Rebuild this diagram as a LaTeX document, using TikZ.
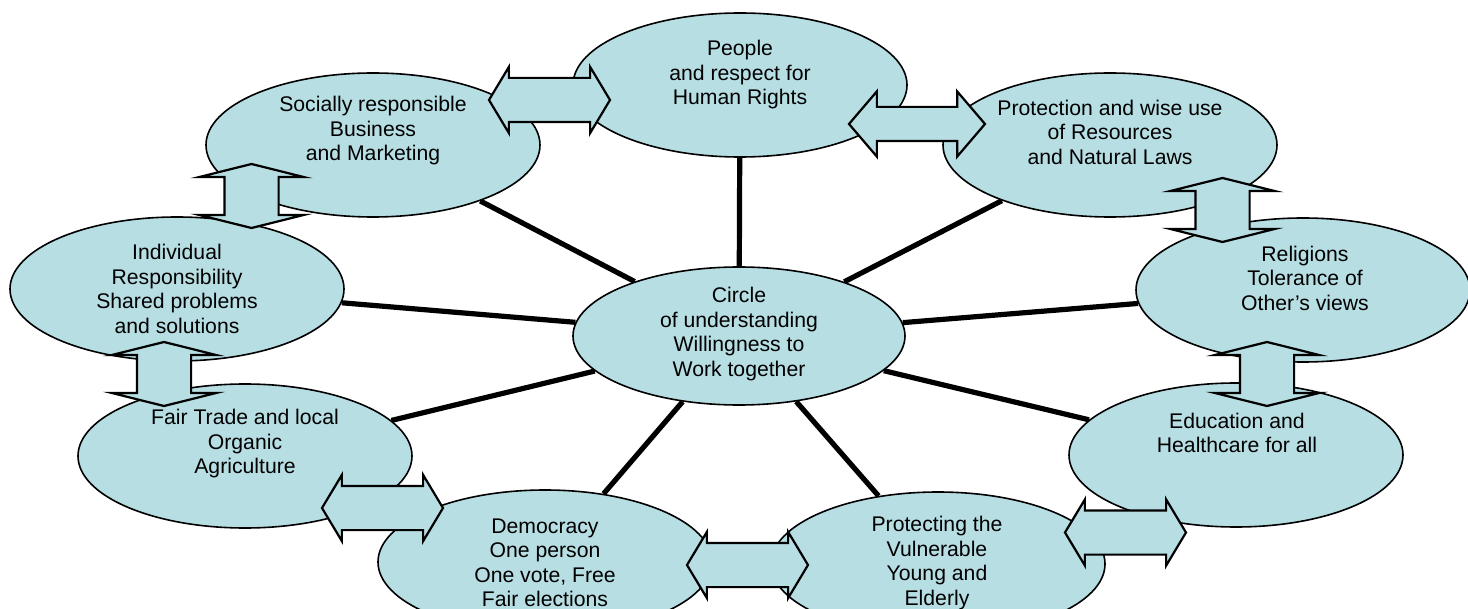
\documentclass[tikz,border=0pt]{standalone}
\usepackage{fontspec}
\setmainfont{Liberation Sans}
\usetikzlibrary{shapes.geometric, shapes.arrows, backgrounds, positioning}
\definecolor{aqua}{RGB}{183,222,227}

\begin{document}
\begin{tikzpicture}[
		x=0.5pt, y=-0.5pt,
		bubble/.style={ellipse, draw=black, fill=aqua, line width=0.8pt, inner sep=0pt, minimum width=167pt, minimum height=72pt},
		words/.style={align=center, font=\fontsize{10.6}{12.25}\selectfont, inner sep=0pt},
		spoke/.style={line width=2.6pt},
		link/.style={double arrow, draw=black, fill=aqua, line width=1.1pt, inner xsep=0pt, inner ysep=10.5pt, minimum height=60.5pt, double arrow head extend=5.5pt, double arrow tip angle=118},
		longlink/.style={link, minimum height=68pt, inner ysep=8pt, double arrow head extend=7.75pt, double arrow tip angle=99},
		uplink/.style={link, rotate=90, minimum height=32pt, inner ysep=13pt, double arrow head extend=12.5pt, double arrow tip angle=152}
		]
		\useasboundingbox (0,0) rectangle (1468,609);

		\node [bubble] (people) at (740,85) {};
		\node [bubble] (business) at (373,145) {};
		\node [bubble] (resources) at (1110,145) {};
		\node [bubble] (individual) at (177,289) {};
		\node [bubble] (religions) at (1303,290) {};
		\node [bubble, minimum width=166pt, minimum height=69pt] (hub) at (739,336) {};
		\node [bubble] (trade) at (245,456) {};
		\node [bubble] (education) at (1236,455) {};
		\node [bubble] (democracy) at (545,562) {};
		\node [bubble] (vulnerable) at (938,564) {};

		\node [words] (people text) at (740,75) {People\\and respect for\\Human Rights};
		\node [words] (business text) at (373,131) {Socially responsible\\Business\\and Marketing};
		\node [words] (resources text) at (1110,132) {Protection and wise use\\of Resources\\and Natural Laws};
		\node [words] (individual text) at (177,289) {Individual\\Responsibility\\Shared problems\\and solutions};
		\node [words] (religions text) at (1305,278) {Religions\\Tolerance of\\Other’s views};
		\node [words] (hub text) at (739,334) {Circle\\of understanding\\Willingness to\\Work together};
		\node [words] (trade text) at (245,444) {Fair Trade and local\\Organic\\Agriculture};
		\node [words] (education text) at (1237,433) {Education and\\Healthcare for all};
		\node [words] (democracy text) at (545,563) {Democracy\\One person\\One vote, Free\\Fair elections};
		\node [words] (vulnerable text) at (937,563) {Protecting the\\Vulnerable\\Young and\\Elderly};

		\begin{scope}[on background layer]
			\foreach \spot in {people, business, resources, individual, religions, trade, education, democracy, vulnerable}
				\draw [spoke] (hub) -- (\spot);
		\end{scope}

		% block arrows between neighbours
		\node [link] (business-people) at (549.5,100) {};
		\node [longlink] (people-resources) at (917,124) {};
		\node [uplink] (business-individual) at (251.5,196) {};
		\node [uplink] (individual-trade) at (164,374) {};
		\node [uplink] (resources-religions) at (1222.5,210) {};
		\node [uplink] (religions-education) at (1267,374) {};
		\node [link] (trade-democracy) at (382.5,508) {};
		\node [link] (democracy-vulnerable) at (747.5,565) {};
		\node [link] (vulnerable-education) at (1125.5,532.5) {};
	\end{tikzpicture}
\end{document}
